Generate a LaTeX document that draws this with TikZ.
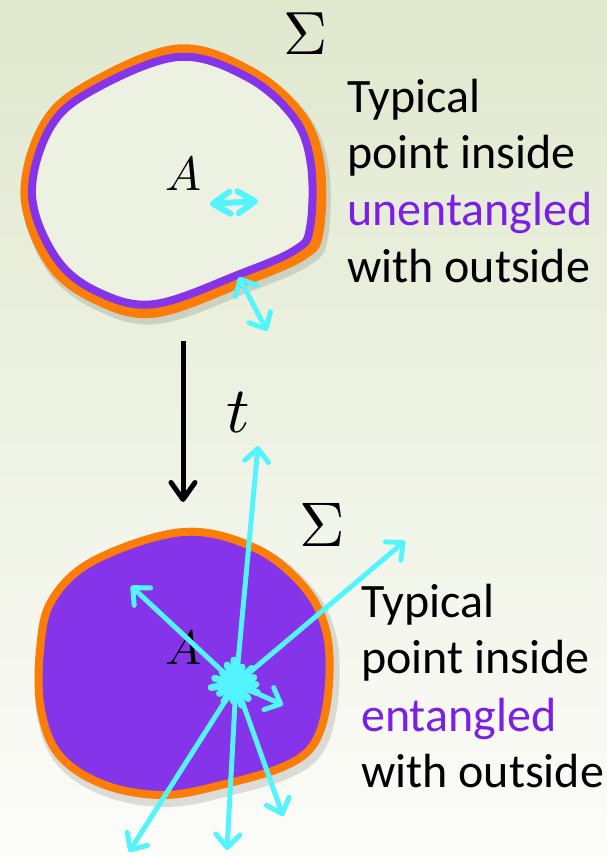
\documentclass[tikz,border=0pt]{standalone}
\usepackage{graphicx}
\usepackage{fontspec}
\setmainfont{Carlito}
\usetikzlibrary{arrows.meta}
\definecolor{bgtop}{RGB}{224,232,206}
\definecolor{bgbot}{RGB}{252,252,249}
\definecolor{purp}{RGB}{133,52,234}
\definecolor{purptext}{RGB}{122,32,230}
\definecolor{orng}{RGB}{252,124,8}
\definecolor{cyn}{RGB}{84,244,255}
\newcommand{\bigmath}[2]{\scalebox{#1}{$#2$}}
\tikzset{
  body/.style={font=\fontsize{48}{57}\selectfont, anchor=base west, inner sep=0pt},
  mathlbl/.style={inner sep=0pt},
  ray/.style={cyn, line width=5pt, line cap=round, -{Straight Barb[length=13pt,width=24pt,line width=5pt,round]}},
  dray/.style={cyn, line width=5pt, line cap=round, {Straight Barb[length=13pt,width=24pt,line width=5pt,round]}-{Straight Barb[length=13pt,width=24pt,line width=5pt,round]}},
  spike/.style={cyn, line width=7pt, line cap=round},
  shadowline/.style={black, opacity=0.12, line width=14pt},
}
\begin{document}
\begin{tikzpicture}[x=1pt,y=-1pt]
\shade[top color=bgtop, bottom color=bgbot] (0,0) rectangle (607,857);
\useasboundingbox (0,0) rectangle (607,857);
% top region
\draw[shadowline, xshift=3pt, yshift=-5pt] plot[smooth cycle, tension=0.6] coordinates {
 (26,195) (45,125) (90,85) (178,50) (250,72) (300,115) (319,165) (318,232) (302,255) (245,280) (155,312) (95,298) (50,262)};
\draw[orng, line width=11pt, fill=bgtop!60!white] plot[smooth cycle, tension=0.6] coordinates {
 (26,195) (45,125) (90,85) (178,50) (250,72) (300,115) (319,165) (318,232) (302,255) (245,280) (155,312) (95,298) (50,262)};
\draw[purp, line width=8pt] plot[smooth cycle, tension=0.6] coordinates {
 (32,195) (50,128) (93,90) (178,57) (247,77) (294,118) (311,165) (310,228) (295,250) (240,274) (155,304) (98,292) (56,258)};
\node[mathlbl] (A1) at (183,174) {\bigmath{4.8}{A}};
\node[mathlbl] (S1) at (306,34) {\bigmath{6.1}{\Sigma}};
\coordinate (s1) at (210,204);
\coordinate (s2) at (258,201);
\draw[cyn, line width=6pt, line cap=round, {Straight Barb[length=17pt,width=22pt,line width=6pt,round]}-{Straight Barb[length=17pt,width=22pt,line width=6pt,round]}] (s1) -- (s2);
\coordinate (b1) at (239,277);
\coordinate (b2) at (267,331);
\draw[dray] (b1) -- (b2);
\node[body] (T1) at (347,112) {Typical};
\node[body] (T2) at (347,168) {point inside};
\node[body, text=purptext] (T3) at (347,225) {unentangled};
\node[body] (T4) at (347,282) {with outside};
% time arrow
\coordinate (ta) at (183,341);
\coordinate (tb) at (183,502);
\draw[line width=5pt, -{Straight Barb[length=17pt,width=24pt,line width=5pt,round]}] (ta) -- (tb);
\node[mathlbl] (tl) at (238,413) {\bigmath{6.5}{t}};
% bottom region
\draw[shadowline, xshift=3pt, yshift=-5pt] plot[smooth cycle, tension=0.6] coordinates {
 (40,650) (52,600) (95,560) (183,532) (255,548) (305,588) (327,635) (328,695) (315,742) (285,766) (225,784) (165,795) (105,785) (60,756) (41,710)};
\draw[orng, line width=8pt, fill=purp] plot[smooth cycle, tension=0.6] coordinates {
 (40,650) (52,600) (95,560) (183,532) (255,548) (305,588) (327,635) (328,695) (315,742) (285,766) (225,784) (165,795) (105,785) (60,756) (41,710)};
\node[mathlbl] (A2) at (183,648) {\bigmath{4.8}{A}};
\node[mathlbl] (S2) at (322,525) {\bigmath{6.3}{\Sigma}};
\coordinate (c) at (236,684);
\foreach \a/\l in {0/20,22/23,50/19,75/22,100/17,125/21,150/19,172/25,195/22,220/18,245/21,265/24,290/18,315/22,340/19}{
  \draw[spike] (c) -- ++(\a:\l);
}
\coordinate (r1) at (258,446);
\coordinate (r2) at (405,541);
\coordinate (r3) at (131,586);
\coordinate (r4) at (283,705);
\coordinate (r5) at (129,852);
\coordinate (r6) at (227,850);
\coordinate (r7) at (283,816);
\foreach \r in {r1,r2,r3,r4,r5,r6,r7}{
  \draw[ray] (c) -- (\r);
}
\node[body] (U1) at (361,617) {Typical};
\node[body] (U2) at (361,673) {point inside};
\node[body, text=purptext] (U3) at (361,731) {entangled};
\node[body] (U4) at (361,787) {with outside};
\end{tikzpicture}
\end{document}
